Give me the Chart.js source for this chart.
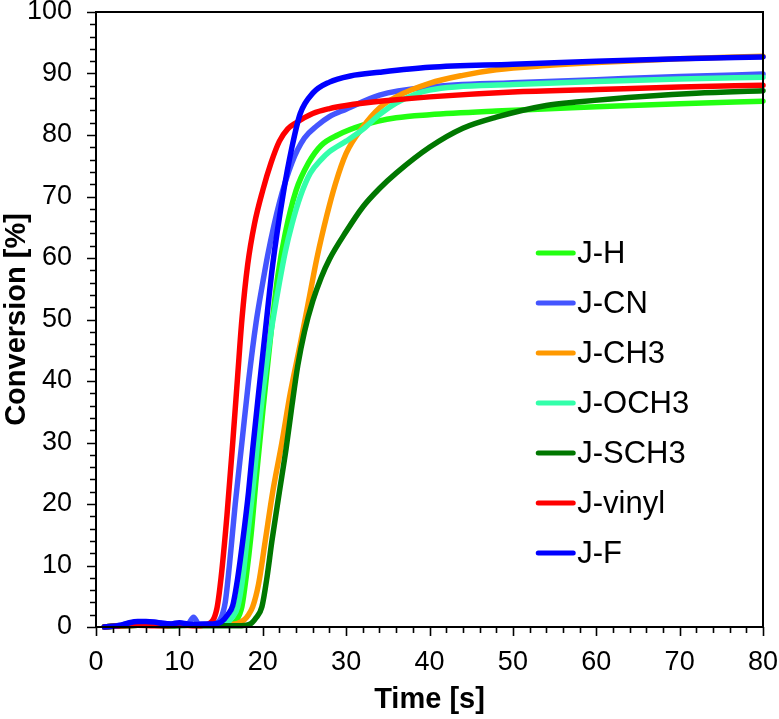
<!DOCTYPE html>
<html>
<head>
<meta charset="utf-8">
<script src="https://cdn.jsdelivr.net/npm/chart.js@4.4.1/dist/chart.umd.min.js"></script>
<style>
  html, body { margin: 0; padding: 0; background: #fff; }
  #wrap { width: 779px; height: 719px; }
</style>
</head>
<body>
<div id="wrap"><canvas id="convChart" width="779" height="719"></canvas></div>
<script>
/* ---------- data ---------- */
const seriesNames = ['J-H', 'J-CN', 'J-CH3', 'J-OCH3', 'J-SCH3', 'J-vinyl', 'J-F'];
const seriesColors = ['#22ff11', '#4455ff', '#ff9900', '#33ffaa', '#007700', '#ff0000', '#0000ff'];

const tH = [1,3,5,7,9,11,13,14,15,16,16.8,17.5,18,18.6,19.2,20,21,21.8,22.7,24,25.5,27,29,32,36,40,48,55,60,70,80];
const vH = [0,0.2,0.3,0.3,0.2,0.3,0.3,0.3,0.3,0.4,1,3.3,8,15,24,35,48,57,64,71,75.5,78.3,80,81.6,82.8,83.3,83.9,84.3,84.6,85.1,85.5];

const tCN = [1,3,5,7,9,10,11,11.7,12.3,13,14,15,15.5,16,16.7,17.5,18.3,19.2,20,20.6,22,23.5,25,26.5,28,30,34,40,50,60,70,80];
const vCN = [0,0.3,0.8,0.7,0.5,0.6,0.5,1.6,0.5,0.4,0.5,1.5,4,10,20,30,40,49.5,56,60.5,69,75.5,79.5,81.5,83,84.2,86.5,87.8,88.5,89,89.5,89.9];

const tCH3 = [1,3,5,7,9,11,13,15,16,17,17.8,18.3,18.8,19.5,20.3,21.2,22.3,23.3,24.5,25.5,26.5,27.7,28.7,30,32,34,36,40,44,48,54,60,70,80];
const vCH3 = [0,0.2,0.3,0.3,0.3,0.3,0.3,0.3,0.4,0.6,1.2,2,3.3,7,14,22,30,38,46,53,60,67,72,77,81.3,84.4,86.2,88.4,89.7,90.6,91.3,91.8,92.4,92.8];

const tOCH3 = [1,3,5,7,9,11,13,14,15.5,16.3,17,17.6,18.1,18.7,19.3,20,21,22,22.7,23.5,24.5,25.7,27,28,30,32,34,36,40,50,60,70,80];
const vOCH3 = [0,0.2,0.3,0.3,0.2,0.3,0.3,0.3,0.5,1.5,3.3,8,14,21,29,38,48,56,61,65.5,70,73.8,76,77.3,79,80.9,83.3,85.2,87.3,88.2,88.7,89.1,89.4];

const tSCH3 = [1,3,5,7,9,11,13,15,17,18.5,19.2,19.9,20.5,21.1,22,22.8,23.5,24.2,25,26,27,28,30,32,34,36,40,44,48,54,58,66,72,80];
const vSCH3 = [0,0.2,0.3,0.3,0.2,0.3,0.2,0.2,0.2,0.5,1.5,3.3,8,14,22,29,36,42.5,48,53,56.8,59.8,64.3,68.3,71.3,73.8,78,81.1,82.9,84.8,85.4,86.3,86.8,87.2];

const tVinyl = [1,3,5,7,8,10,12,13.5,14.5,15,15.7,16.4,17,17.5,18.2,19,20,21,22,23,24,26,28,30,35,40,50,60,70,80];
const vVinyl = [0,0.2,0.3,0.2,0.2,0.3,0.2,0.5,3,8,18,30,41,50,59,65.5,71,75.5,79,81,82,83.5,84.3,84.8,85.6,86.2,87,87.4,87.8,88.1];

const tF = [1,3,4,5,6,7,8,9,10,11,12,13,14,15,15.8,16.4,17,17.6,18.3,18.8,19.5,20.3,21.2,22.4,23.5,24.5,26,28,30.5,34,40,50,60,70,80];
const vF = [0,0.3,0.7,0.9,0.9,0.8,0.6,0.5,0.7,0.5,0.4,0.5,0.5,0.8,2,3.5,8,14,22,29,38,48,59,70,78,83.5,86.8,88.6,89.6,90.2,91,91.5,92,92.4,92.7];

const seriesT = [tH, tCN, tCH3, tOCH3, tSCH3, tVinyl, tF];
const seriesV = [vH, vCN, vCH3, vOCH3, vSCH3, vVinyl, vF];

const FONT = '"Liberation Sans", Arial, sans-serif';

/* ---------- frame, outward ticks and inline legend ---------- */
const framePlugin = {
  id: 'frame',
  afterDraw(chart) {
    const { ctx, chartArea: a, scales } = chart;
    ctx.save();
    ctx.strokeStyle = '#000';
    ctx.lineWidth = 2;
    ctx.strokeRect(a.left, a.top, a.right - a.left, a.bottom - a.top);
    ctx.lineWidth = 1.6;
    ctx.beginPath();
    for (let v = 0; v <= 80; v += 2) {
      const x = Math.round(scales.x.getPixelForValue(v)) + 0.5;
      const len = v % 10 === 0 ? 9 : 6;
      ctx.moveTo(x, a.bottom);
      ctx.lineTo(x, a.bottom + len);
    }
    for (let v = 0; v <= 100; v += 2) {
      const y = Math.round(scales.y.getPixelForValue(v)) + 0.5;
      const len = v % 10 === 0 ? 9 : 6;
      ctx.moveTo(a.left, y);
      ctx.lineTo(a.left - len, y);
    }
    ctx.stroke();

    // legend inside plot area
    const lx = a.left + (a.right - a.left) * 0.663;
    const ly = a.top + (a.bottom - a.top) * 0.392;
    ctx.font = '31px ' + FONT;
    ctx.textBaseline = 'middle';
    ctx.textAlign = 'left';
    ctx.lineCap = 'round';
    ctx.lineWidth = 5;
    chart.data.datasets.forEach((ds, i) => {
      const y = ly + i * 50;
      ctx.strokeStyle = ds.borderColor;
      ctx.beginPath();
      ctx.moveTo(lx, y);
      ctx.lineTo(lx + 35, y);
      ctx.stroke();
      ctx.fillStyle = '#000';
      ctx.fillText(ds.label, lx + 39, y + 1);
    });
    ctx.restore();
  }
};

const datasets = seriesNames.map((name, i) => ({
  label: name,
  data: seriesT[i].map((t, k) => ({ x: t, y: seriesV[i][k] })),
  borderColor: seriesColors[i],
  backgroundColor: seriesColors[i],
  borderWidth: 5.5,
  pointRadius: 0,
  fill: false,
  tension: 0.4,
  cubicInterpolationMode: 'monotone',
  borderCapStyle: 'round',
  borderJoinStyle: 'round',
  clip: false,
  order: seriesNames.length - 1 - i   // J-F on top
}));

new Chart(document.getElementById('convChart'), {
  type: 'line',
  data: { datasets },
  options: {
    responsive: false,
    animation: false,
    events: [],
    layout: { padding: { top: 12, right: 16, left: 0, bottom: 0 } },
    plugins: { legend: { display: false }, tooltip: { enabled: false } },
    scales: {
      x: {
        type: 'linear', min: 0, max: 80,
        ticks: { stepSize: 10, color: '#000', padding: 19, font: { family: FONT, size: 27 }, maxRotation: 0 },
        grid: { display: false, drawTicks: false },
        border: { display: false },
        title: { display: true, text: 'Time [s]', color: '#000', padding: { top: 0, bottom: 2 },
                 font: { family: FONT, size: 29, weight: 'bold' } },
        afterFit(s) { s.height = 92; s.paddingLeft = 0; s.paddingRight = 0; }
      },
      y: {
        min: 0, max: 100,
        ticks: { stepSize: 10, color: '#000', padding: 24, font: { family: FONT, size: 27 } },
        grid: { display: false, drawTicks: false },
        border: { display: false },
        title: { display: true, text: 'Conversion [%]', color: '#000', padding: { top: 0, bottom: 0 },
                 font: { family: FONT, size: 29, weight: 'bold' } },
        afterFit(s) { s.width = 96; s.paddingTop = 0; s.paddingBottom = 0; }
      }
    }
  },
  plugins: [framePlugin]
});
</script>
</body>
</html>
